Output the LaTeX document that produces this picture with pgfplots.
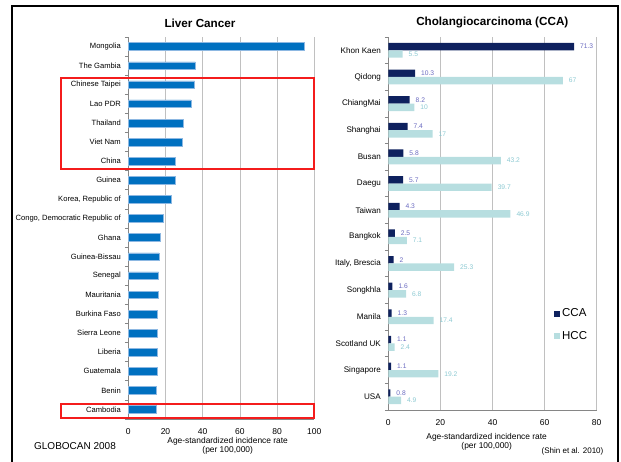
\documentclass[border=0pt]{standalone}
\usepackage{pgfplots}
\pgfplotsset{compat=1.18}
\usepackage{fontspec}
\setmainfont{Liberation Sans}
\definecolor{barblue}{HTML}{0070C0}
\definecolor{barblueedge}{HTML}{8DB8E2}
\definecolor{ccanavy}{HTML}{0E215E}
\definecolor{hccaqua}{HTML}{B7DEE0}
\definecolor{ccalab}{HTML}{6A6AC0}
\definecolor{hcclab}{HTML}{8CC9D2}
\definecolor{gridgray}{HTML}{C0C0C0}
\definecolor{axgray}{HTML}{868686}
\definecolor{boxred}{HTML}{F41C1C}
\pgfplotsset{
  panel/.style={
    scale only axis, anchor=south west, xbar,
    axis lines*=left,
    axis line style={draw=axgray, line width=0.75pt},
    xmajorgrids, major grid style={gridgray, line width=0.75pt},
    major tick length=0pt, minor tick length=3.5pt, tick align=outside,
    minor tick style={axgray, line width=0.75pt},
    /pgf/number format/assume math mode=true,
    xticklabel style={font=\fontsize{8.5}{9}\selectfont, yshift=-6pt},
    clip=false,
  }
}
\begin{document}
\begin{tikzpicture}[x=1pt,y=1pt]
\path[use as bounding box] (0,0) rectangle (621,461);
\draw[line width=2pt, black] (11.5,-5) -- (11.5,454.5) -- (617.5,454.5) -- (617.5,-5);

% ---------- Left panel ----------
\begin{axis}[panel, at={(128.3pt,42pt)}, width=186pt, height=382pt,
  xmin=0, xmax=100, xtick={0,20,...,100},
  ymin=-0.5, ymax=19.5, ytick={0,...,19},
  minor ytick={-0.5,0.5,...,19.5},
  yticklabel style={font=\fontsize{7.6}{9}\selectfont, xshift=-4pt},
  yticklabels={Cambodia, Benin, Guatemala, Liberia, Sierra Leone, Burkina Faso, Mauritania, Senegal, Guinea-Bissau, Ghana, {Congo, Democratic Republic of}, {Korea, Republic of}, Guinea, China, Viet Nam, Thailand, Lao PDR, Chinese Taipei, The Gambia, Mongolia},
  bar width=7.7pt]
\addplot[fill=barblue, draw=barblueedge, line width=0.5pt] coordinates {
 (14.9,0) (15.2,1) (15.6,2) (15.6,3) (15.6,4) (15.8,5) (16.3,6) (16.3,7) (16.5,8) (17.2,9)
 (18.7,10) (23.3,11) (25.1,12) (25.5,13) (29.2,14) (29.6,15) (33.7,16) (35.7,17) (36.0,18) (94.4,19)};
\end{axis}

% ---------- Right panel ----------
\begin{axis}[panel, at={(388.3pt,51pt)}, width=208.4pt, height=373pt,
  xmin=0, xmax=80, xtick={0,20,...,80},
  ymin=-0.5, ymax=13.5, ytick={0,...,13},
  minor ytick={-0.5,0.5,...,13.5},
  yticklabel style={font=\fontsize{8.1}{9}\selectfont, xshift=-4pt},
  yticklabels={USA, Singapore, Scotland UK, Manila, Songkhla, {Italy, Brescia}, Bangkok, Taiwan, Daegu, Busan, Shanghai, ChiangMai, Qidong, Khon Kaen},
  bar width=7.4pt,
  point meta=explicit symbolic,
  nodes near coords,
  legend style={draw=none, fill=none, at={(0.795,0.228)}, anchor=west,
    font=\fontsize{11.5}{13}\selectfont, row sep=9pt, inner sep=0pt},
  legend cell align=left,
  legend image code/.code={\fill[#1] (0pt,-3pt) rectangle (6pt,3pt);},
  ]
\addplot[fill=ccanavy, draw=none, bar shift=3.7pt,
  nodes near coords style={font=\fontsize{6.7}{7}\selectfont, text=ccalab, anchor=west, xshift=2.5pt}] coordinates {
 (0.8,0) [0.8] (1.1,1) [1.1] (1.1,2) [1.1] (1.3,3) [1.3] (1.6,4) [1.6] (2,5) [2] (2.5,6) [2.5]
 (4.3,7) [4.3] (5.7,8) [5.7] (5.8,9) [5.8] (7.4,10) [7.4] (8.2,11) [8.2] (10.3,12) [10.3] (71.3,13) [71.3]};
\addlegendentry{CCA}
\addplot[fill=hccaqua, draw=none, bar shift=-3.7pt,
  nodes near coords style={font=\fontsize{6.7}{7}\selectfont, text=hcclab, anchor=west, xshift=2.5pt}] coordinates {
 (4.9,0) [4.9] (19.2,1) [19.2] (2.4,2) [2.4] (17.4,3) [17.4] (6.8,4) [6.8] (25.3,5) [25.3] (7.1,6) [7.1]
 (46.9,7) [46.9] (39.7,8) [39.7] (43.2,9) [43.2] (17,10) [17] (10,11) [10] (67,12) [67] (5.5,13) [5.5]};
\addlegendentry{HCC}
\end{axis}

% red highlight boxes
\draw[boxred, line width=2pt] (60.7,291.7) rectangle (314.3,383.3);
\draw[boxred, line width=2pt] (60.7,42.7) rectangle (314.3,57.3);

% titles and texts
\node[font=\bfseries\fontsize{11.7}{13}\selectfont] at (200,438) {Liver Cancer};
\node[font=\bfseries\fontsize{11.7}{13}\selectfont] at (492.3,438) {Cholangiocarcinoma (CCA)};
\node[font=\fontsize{8.4}{9.3}\selectfont, align=center] at (227.7,15) {Age-standardized incidence rate\\(per 100,000)};
\node[font=\fontsize{8.4}{9.6}\selectfont, align=center] at (486.7,19.3) {Age-standardized incidence rate\\(per 100,000)};
\node[font=\fontsize{10}{12}\selectfont] at (75,15) {GLOBOCAN 2008};
\node[font=\fontsize{8}{9}\selectfont] at (572.5,9.3) {(Shin et al. 2010)};
\end{tikzpicture}
\end{document}
